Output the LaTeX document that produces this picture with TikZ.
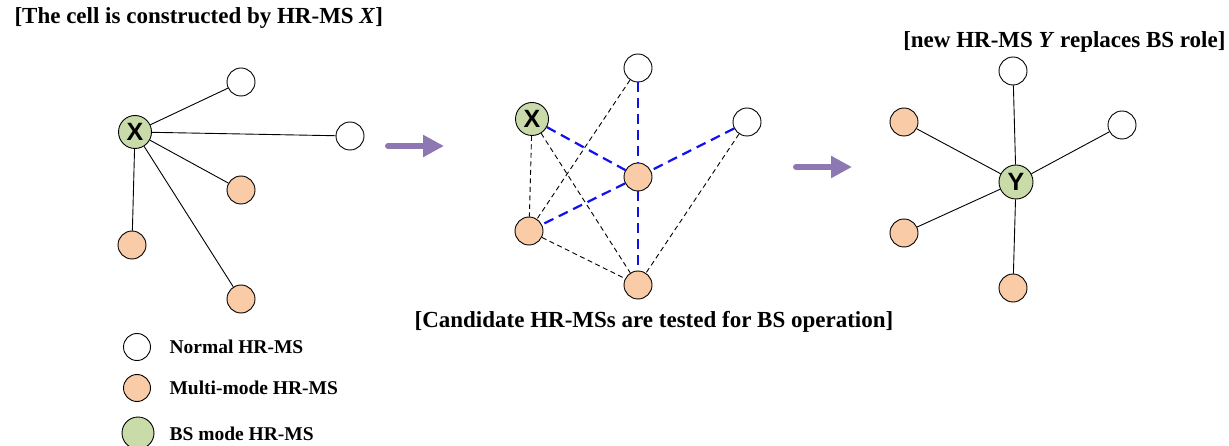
\documentclass[tikz,border=0pt]{standalone}
\usepackage{xcolor}
\usepackage{fontspec}
\setmainfont{Liberation Serif}
\newfontfamily\hrlabel{Liberation Sans}
\usetikzlibrary{arrows.meta}

\definecolor{msorange}{HTML}{F9CBA6}
\definecolor{bsgreen}{HTML}{CADBAA}
\definecolor{flowpurple}{HTML}{8D78B4}
\definecolor{linkblue}{HTML}{1010F0}

\begin{document}
\begin{tikzpicture}[x=1pt,y=-1pt,
		hrms/.style={circle,draw,line width=0.9pt,minimum size=28pt,inner sep=0pt},
		normal/.style={hrms,fill=white},
		multi/.style={hrms,fill=msorange},
		bsmode/.style={hrms,fill=bsgreen,minimum size=33pt,font=\hrlabel\bfseries\fontsize{25}{25}\selectfont},
		link/.style={line width=0.9pt},
		probe/.style={line width=0.9pt,dash pattern=on 5pt off 3.5pt},
		testlink/.style={line width=2.2pt,linkblue,dash pattern=on 10pt off 6pt},
		flow/.style={flowpurple,line width=6pt,line cap=round,-{Triangle[length=21pt,width=21pt]}},
		caption/.style={font=\bfseries\fontsize{23}{23}\selectfont},
		legend/.style={font=\bfseries\fontsize{19.5}{19.5}\selectfont,anchor=west}]
			\useasboundingbox (0,0) rectangle (1229,446);
			\node[caption,anchor=west] (capA) at (11,18) {[The cell is constructed by HR-MS \textit{X}]};
			\node[bsmode] (X) at (135,132) {X};
			\node[normal] (A1) at (241,82) {};
			\node[normal] (A2) at (350,136) {};
			\node[multi] (A3) at (241,190) {};
			\node[multi] (A4) at (132,245) {};
			\node[multi] (A5) at (241,299) {};
			\draw[link] (X) -- (A1);
			\draw[link] (X) -- (A2);
			\draw[link] (X) -- (A3);
			\draw[link] (X) -- (A4);
			\draw[link] (X) -- (A5);
			\coordinate (f1s) at (388,146);
			\coordinate (f1e) at (444,146);
			\draw[flow] (f1s) -- (f1e);
			\node[bsmode] (Xb) at (532,119) {X};
			\node[normal] (B1) at (638,68) {};
			\node[normal] (B2) at (747,122) {};
			\node[multi] (B3) at (638,177) {};
			\node[multi] (B4) at (529,231) {};
			\node[multi] (B5) at (638,285) {};
			\draw[probe] (Xb) -- (B4);
			\draw[probe] (Xb) -- (B5);
			\draw[probe] (B1) -- (B4);
			\draw[probe] (B2) -- (B5);
			\draw[probe] (B4) -- (B5);
			\draw[testlink] (Xb) -- (B3);
			\draw[testlink] (B1) -- (B3);
			\draw[testlink] (B2) -- (B3);
			\draw[testlink] (B3) -- (B4);
			\draw[testlink] (B3) -- (B5);
			\node[caption] (capB) at (654,322) {[Candidate HR-MSs are tested for BS operation]};
			\coordinate (f2s) at (796,167);
			\coordinate (f2e) at (852,167);
			\draw[flow] (f2s) -- (f2e);
			\node[caption,anchor=east] (capC) at (1229,42) {[new HR-MS \textit{Y} replaces BS role]};
			\node[bsmode,minimum size=34pt] (Y) at (1016,182) {Y};
			\node[normal] (C1) at (1013,71) {};
			\node[multi] (C2) at (904,122) {};
			\node[normal] (C3) at (1122,125) {};
			\node[multi] (C4) at (904,233) {};
			\node[multi] (C5) at (1013,288) {};
			\draw[link] (Y) -- (C1);
			\draw[link] (Y) -- (C2);
			\draw[link] (Y) -- (C3);
			\draw[link] (Y) -- (C4);
			\draw[link] (Y) -- (C5);
			\node[normal,minimum size=27pt] (L1) at (137,347) {};
			\node[multi,minimum size=27pt] (L2) at (137,388) {};
			\node[bsmode,minimum size=32pt] (L3) at (138,433) {};
			\node[legend] (T1) at (166,347) {Normal HR-MS};
			\node[legend] (T2) at (166,388) {Multi-mode HR-MS};
			\node[legend] (T3) at (166,434) {BS mode HR-MS};
		\end{tikzpicture}
\end{document}
